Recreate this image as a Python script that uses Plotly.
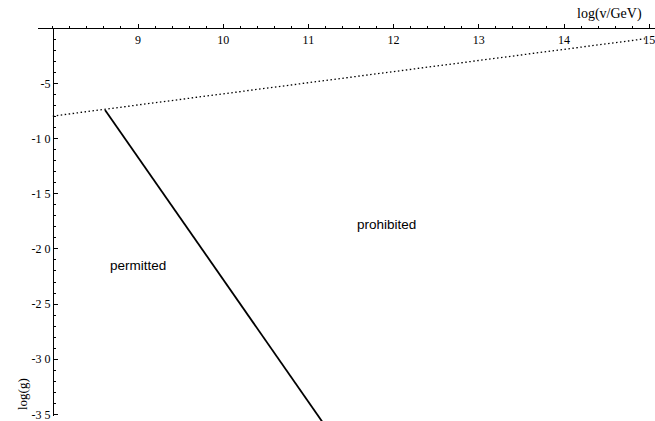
import plotly.graph_objects as go

# ---- data ----
boundary_x = [8.0, 14.95]         # dotted line (log v)
boundary_y = [-7.95, -0.95]       # dotted line (log g)
limit_x = [8.613, 11.2]           # solid line
limit_y = [-7.39, -36.05]
region_labels = ["permitted", "prohibited"]
region_x = [9.0, 11.92]
region_y = [-21.5, -17.8]
xtick_vals = [9, 10, 11, 12, 13, 14, 15]
xtick_text = ["9", "10", "11", "12", "13", "14", "15"]
ytick_vals = [-5, -10, -15, -20, -25, -30, -35]
ytick_text = ["-5", "-1 0", "-1 5", "-2 0", "-2 5", "-3 0", "-3 5"]

# ---- geometry (pixels) ----
W, H = 655, 421
PX_X = 85.2      # px per unit x
PX_Y = 11.04     # px per unit y
X0_PIX = 52.8    # pixel of x=8
Y0_PIX = 28.3    # pixel of y=0
X_ORIG = 8.0

def px2x(p):
    return X_ORIG + (p - X0_PIX) / PX_X

def py2y(p):
    return -(p - Y0_PIX) / PX_Y

fig = go.Figure()

fig.add_trace(go.Scatter(x=boundary_x, y=boundary_y, mode="lines",
                         line=dict(color="black", width=1.3, dash="1.5px,2.5px"),
                         hoverinfo="skip", showlegend=False))
fig.add_trace(go.Scatter(x=limit_x, y=limit_y, mode="lines",
                         line=dict(color="black", width=1.8),
                         hoverinfo="skip", showlegend=False))
# dummy trace for visible axes subplot
fig.add_trace(go.Scatter(x=[], y=[], xaxis="x2", yaxis="y2", showlegend=False))

for t, x, y in zip(region_labels, region_x, region_y):
    fig.add_annotation(x=x, y=y, text=t, showarrow=False,
                       xanchor="center", yanchor="middle",
                       font=dict(family="Liberation Sans, Arial", size=13.5, color="black"))

fig.add_annotation(xref="paper", yref="paper", x=609.5 / W, y=1 - 14 / H,
                   text="log(v/GeV)", showarrow=False, xanchor="center", yanchor="middle",
                   font=dict(family="Liberation Serif, Times New Roman", size=14, color="black"))
fig.add_annotation(xref="paper", yref="paper", x=22 / W, y=1 - 394 / H,
                   text="log(g)", showarrow=False, textangle=-90,
                   xanchor="center", yanchor="middle",
                   font=dict(family="Liberation Serif, Times New Roman", size=13, color="black"))

tickfont = dict(family="Liberation Serif, Times New Roman", size=12, color="black")

fig.update_layout(
    width=W, height=H, margin=dict(l=0, r=0, t=0, b=0, pad=0, autoexpand=False),
    showlegend=False,
    plot_bgcolor="rgba(0,0,0,0)", paper_bgcolor="white",
    xaxis=dict(range=[px2x(0), px2x(W)], domain=[0, 1], visible=False),
    yaxis=dict(range=[py2y(H), py2y(0)], domain=[0, 1], visible=False),
    xaxis2=dict(range=[px2x(38), px2x(W)], domain=[38 / W, 1],
                anchor="free", position=1 - Y0_PIX / H, side="bottom",
                showline=True, linecolor="black", linewidth=1,
                showgrid=False, zeroline=False, ticklabeloverflow="allow",
                tickmode="array", tickvals=xtick_vals, ticktext=xtick_text,
                ticks="inside", ticklen=4, tickwidth=1, tickcolor="black",
                tickfont=tickfont,
                minor=dict(tickmode="linear", tick0=8, dtick=0.2, ticks="inside",
                           ticklen=2, tickwidth=1, tickcolor="black", showgrid=False)),
    yaxis2=dict(range=[-35.1, 0], domain=[1 - 415.5 / H, 1 - Y0_PIX / H],
                anchor="free", position=X0_PIX / W, side="left",
                showline=True, linecolor="black", linewidth=1,
                showgrid=False, zeroline=False, ticklabeloverflow="allow",
                tickmode="array", tickvals=ytick_vals, ticktext=ytick_text,
                ticks="inside", ticklen=4, tickwidth=1, tickcolor="black",
                tickfont=tickfont,
                minor=dict(tickmode="linear", tick0=0, dtick=1, ticks="inside",
                           ticklen=2.5, tickwidth=1, tickcolor="black", showgrid=False)),
)

fig.write_html("out.html")
